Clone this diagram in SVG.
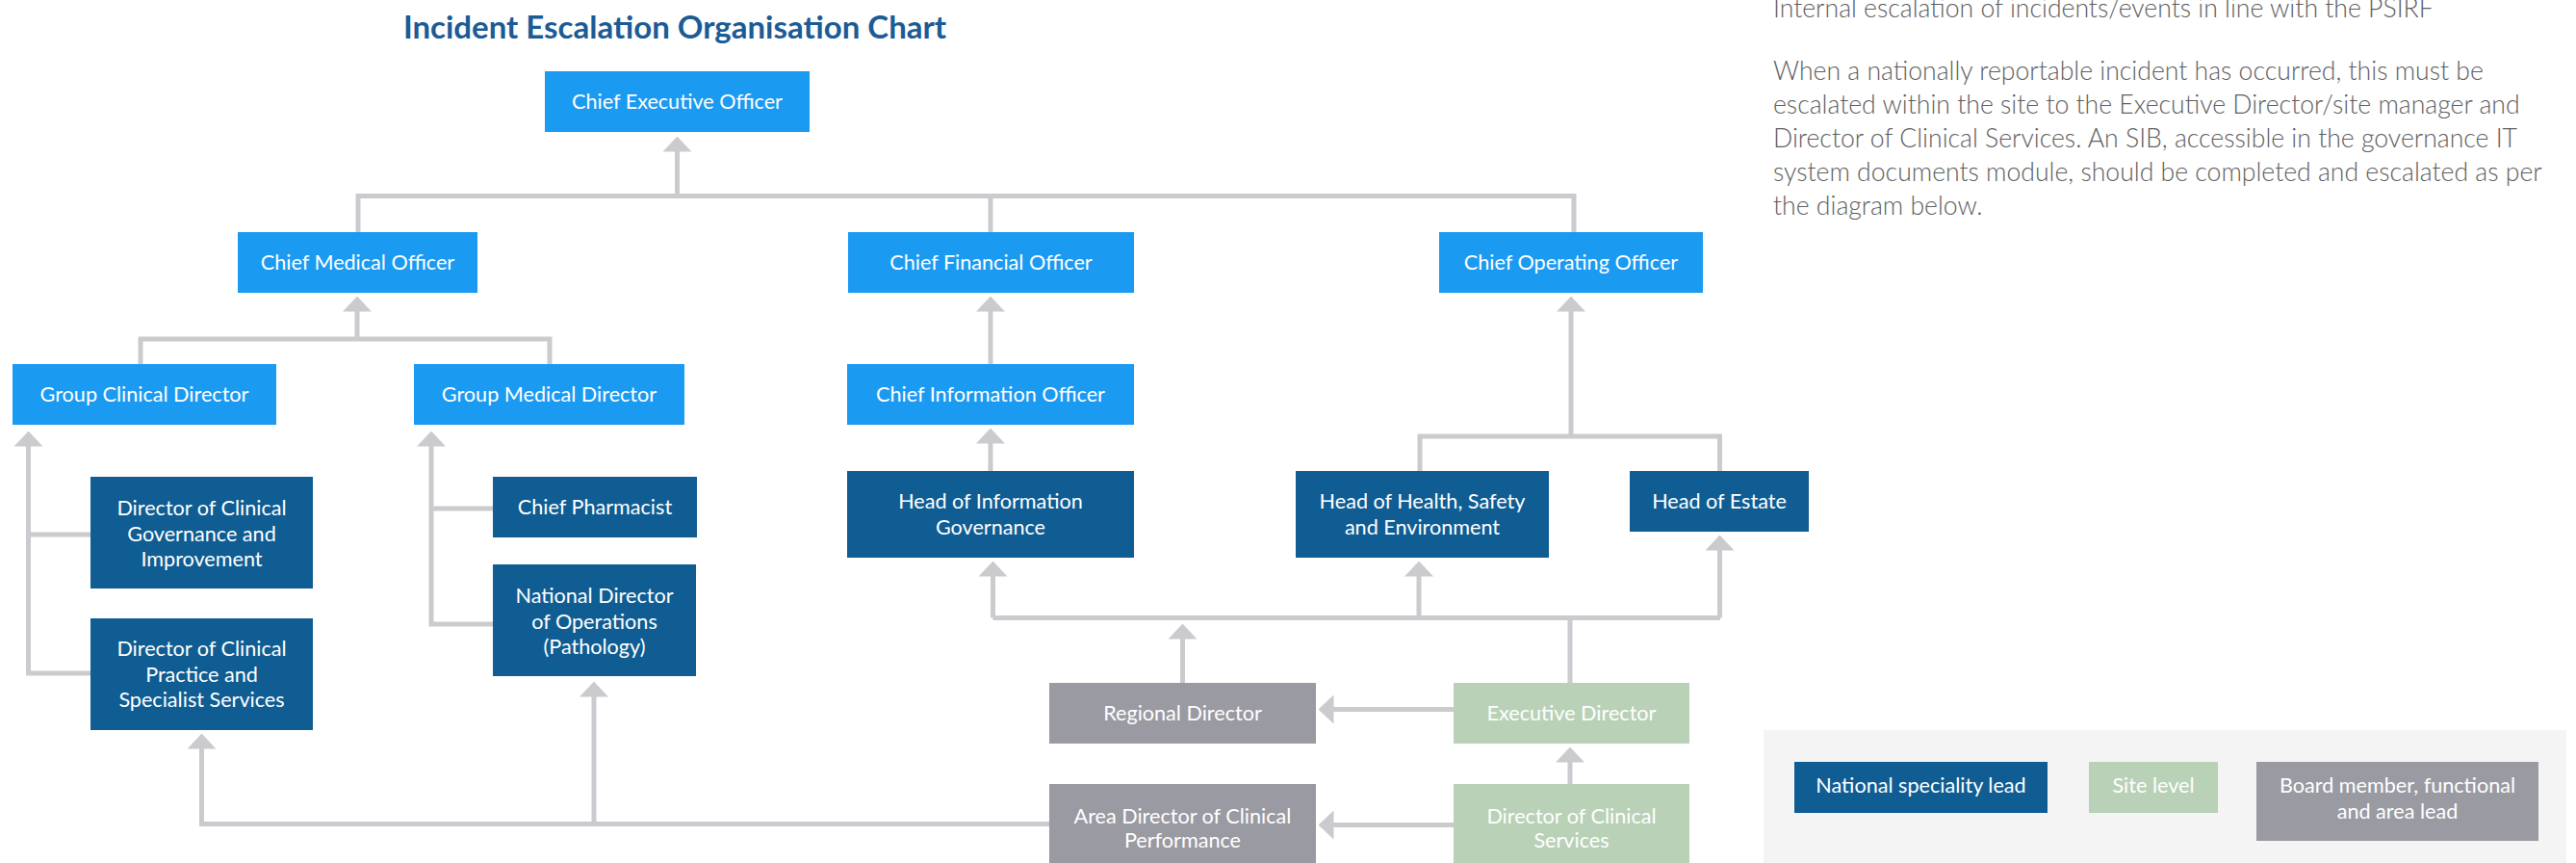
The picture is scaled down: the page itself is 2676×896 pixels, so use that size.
<svg xmlns="http://www.w3.org/2000/svg" width="2676" height="896" viewBox="0 0 2676 896">
<style>
  .t{font-family:Lato,"Open Sans","Liberation Sans",sans-serif;font-size:21.6px;fill:#ffffff;text-anchor:middle}
  .lb{fill:#1b9af2}
  .db{fill:#0f5d93}
  .gr{fill:#9a9aa2}
  .gn{fill:#b9d1b7}
  .c{fill:none;stroke:#cbcbcf;stroke-width:5}
  .a{marker-end:url(#arr)}
  .p{font-family:Lato,"Open Sans","Liberation Sans",sans-serif;font-size:26.6px;font-weight:300;fill:#5e5e5e}
</style>
<defs>
  <marker id="arr" markerUnits="userSpaceOnUse" viewBox="0 -15 16 30" refX="0.5" refY="0" markerWidth="16" markerHeight="30" orient="auto">
    <path d="M0,-15 L16,0 L0,15 Z" fill="#cbcbcf"/>
  </marker>
</defs>
<rect width="2676" height="896" fill="#ffffff"/>

<text x="701" y="40" style="font-family:Lato,'Open Sans','Liberation Sans',sans-serif;font-size:33px;font-weight:700;fill:#1b5b96;text-anchor:middle">Incident Escalation Organisation Chart</text>

<g id="intro">
  <text class="p" x="1842" y="18">Internal escalation of incidents/events in line with the PSIRF</text>
  <text class="p" x="1842" y="83">When a nationally reportable incident has occurred, this must be</text>
  <text class="p" x="1842" y="118">escalated within the site to the Executive Director/site manager and</text>
  <text class="p" x="1842" y="153">Director of Clinical Services. An SIB, accessible in the governance IT</text>
  <text class="p" x="1842" y="188">system documents module, should be completed and escalated as per</text>
  <text class="p" x="1842" y="223">the diagram below.</text>
</g>

<g id="connectors">
  <path class="c" d="M372,241 V203.5 H1635 V241"/>
  <path class="c" d="M1029,241 V203.5"/>
  <path class="c a" d="M703.5,203.5 V157"/>

  <path class="c" d="M146,378 V352 H571 V378"/>
  <path class="c a" d="M371,352 V323"/>

  <path class="c" d="M94,555 H29.5"/>
  <path class="c a" d="M94,699 H29.5 V463"/>

  <path class="c" d="M512,528 H448"/>
  <path class="c a" d="M512,648 H448 V463"/>

  <path class="c a" d="M1090,855.5 H209.5 V777"/>
  <path class="c a" d="M617,855.5 V723"/>

  <path class="c a" d="M1029,378 V323"/>
  <path class="c a" d="M1029,489 V460"/>

  <path class="c" d="M1475,489 V453 H1786.5 V489"/>
  <path class="c a" d="M1632,453 V323"/>

  <path class="c" d="M1031.5,641.5 H1787"/>
  <path class="c a" d="M1031.5,641.5 V598"/>
  <path class="c a" d="M1474,641.5 V598"/>
  <path class="c a" d="M1786.5,641.5 V571"/>
  <path class="c" d="M1631,709 V641.5"/>
  <path class="c a" d="M1228.5,709 V663"/>

  <path class="c a" d="M1510,736.5 H1385"/>
  <path class="c a" d="M1631,814 V791"/>
  <path class="c a" d="M1510,856.5 H1385"/>
</g>

<g id="ceo"><rect class="lb" x="566" y="74" width="275" height="63"/><text class="t" x="703.5" y="113">Chief Executive Officer</text></g>
<g id="cmo"><rect class="lb" x="247" y="241" width="249" height="63"/><text class="t" x="371.5" y="280">Chief Medical Officer</text></g>
<g id="cfo"><rect class="lb" x="881" y="241" width="297" height="63"/><text class="t" x="1029.5" y="280">Chief Financial Officer</text></g>
<g id="coo"><rect class="lb" x="1495" y="241" width="274" height="63"/><text class="t" x="1632" y="280">Chief Operating Officer</text></g>
<g id="gcd"><rect class="lb" x="13" y="378" width="274" height="63"/><text class="t" x="150" y="417">Group Clinical Director</text></g>
<g id="gmd"><rect class="lb" x="430" y="378" width="281" height="63"/><text class="t" x="570.5" y="417">Group Medical Director</text></g>
<g id="cio"><rect class="lb" x="880" y="378" width="298" height="63"/><text class="t" x="1029" y="417">Chief Information Officer</text></g>

<g id="dcgi"><rect class="db" x="94" y="495" width="231" height="116"/><text class="t" x="209.5" y="535">Director of Clinical</text><text class="t" x="209.5" y="561.5">Governance and</text><text class="t" x="209.5" y="588">Improvement</text></g>
<g id="dcpss"><rect class="db" x="94" y="642" width="231" height="116"/><text class="t" x="209.5" y="681">Director of Clinical</text><text class="t" x="209.5" y="707.5">Practice and</text><text class="t" x="209.5" y="734">Specialist Services</text></g>
<g id="cp"><rect class="db" x="512" y="495" width="212" height="63"/><text class="t" x="618" y="534">Chief Pharmacist</text></g>
<g id="ndo"><rect class="db" x="512" y="586" width="211" height="116"/><text class="t" x="617.5" y="626">National Director</text><text class="t" x="617.5" y="652.5">of Operations</text><text class="t" x="617.5" y="679">(Pathology)</text></g>
<g id="hig"><rect class="db" x="880" y="489" width="298" height="90"/><text class="t" x="1029" y="528">Head of Information</text><text class="t" x="1029" y="555">Governance</text></g>
<g id="hhse"><rect class="db" x="1346" y="489" width="263" height="90"/><text class="t" x="1477.5" y="528">Head of Health, Safety</text><text class="t" x="1477.5" y="555">and Environment</text></g>
<g id="hoe"><rect class="db" x="1693" y="489" width="186" height="63"/><text class="t" x="1786" y="528">Head of Estate</text></g>

<g id="rd"><rect class="gr" x="1090" y="709" width="277" height="63"/><text class="t" x="1228.5" y="748">Regional Director</text></g>
<g id="ed"><rect class="gn" x="1510" y="709" width="245" height="63"/><text class="t" x="1632.5" y="748">Executive Director</text></g>
<g id="adcp"><rect class="gr" x="1090" y="814" width="277" height="90"/><text class="t" x="1228.5" y="855">Area Director of Clinical</text><text class="t" x="1228.5" y="880">Performance</text></g>
<g id="dcs"><rect class="gn" x="1510" y="814" width="245" height="90"/><text class="t" x="1632.5" y="855">Director of Clinical</text><text class="t" x="1632.5" y="880">Services</text></g>

<g id="legend">
  <rect x="1832" y="758" width="834" height="140" fill="#f4f4f4"/>
  <g id="legend-national"><rect class="db" x="1864" y="791" width="263" height="53"/><text class="t" x="1995.5" y="823">National speciality lead</text></g>
  <g id="legend-site"><rect class="gn" x="2170" y="791" width="134" height="53"/><text class="t" x="2237" y="823">Site level</text></g>
  <g id="legend-board"><rect class="gr" x="2344" y="791" width="293" height="82"/><text class="t" x="2490.5" y="823">Board member, functional</text><text class="t" x="2490.5" y="850">and area lead</text></g>
</g>
</svg>
